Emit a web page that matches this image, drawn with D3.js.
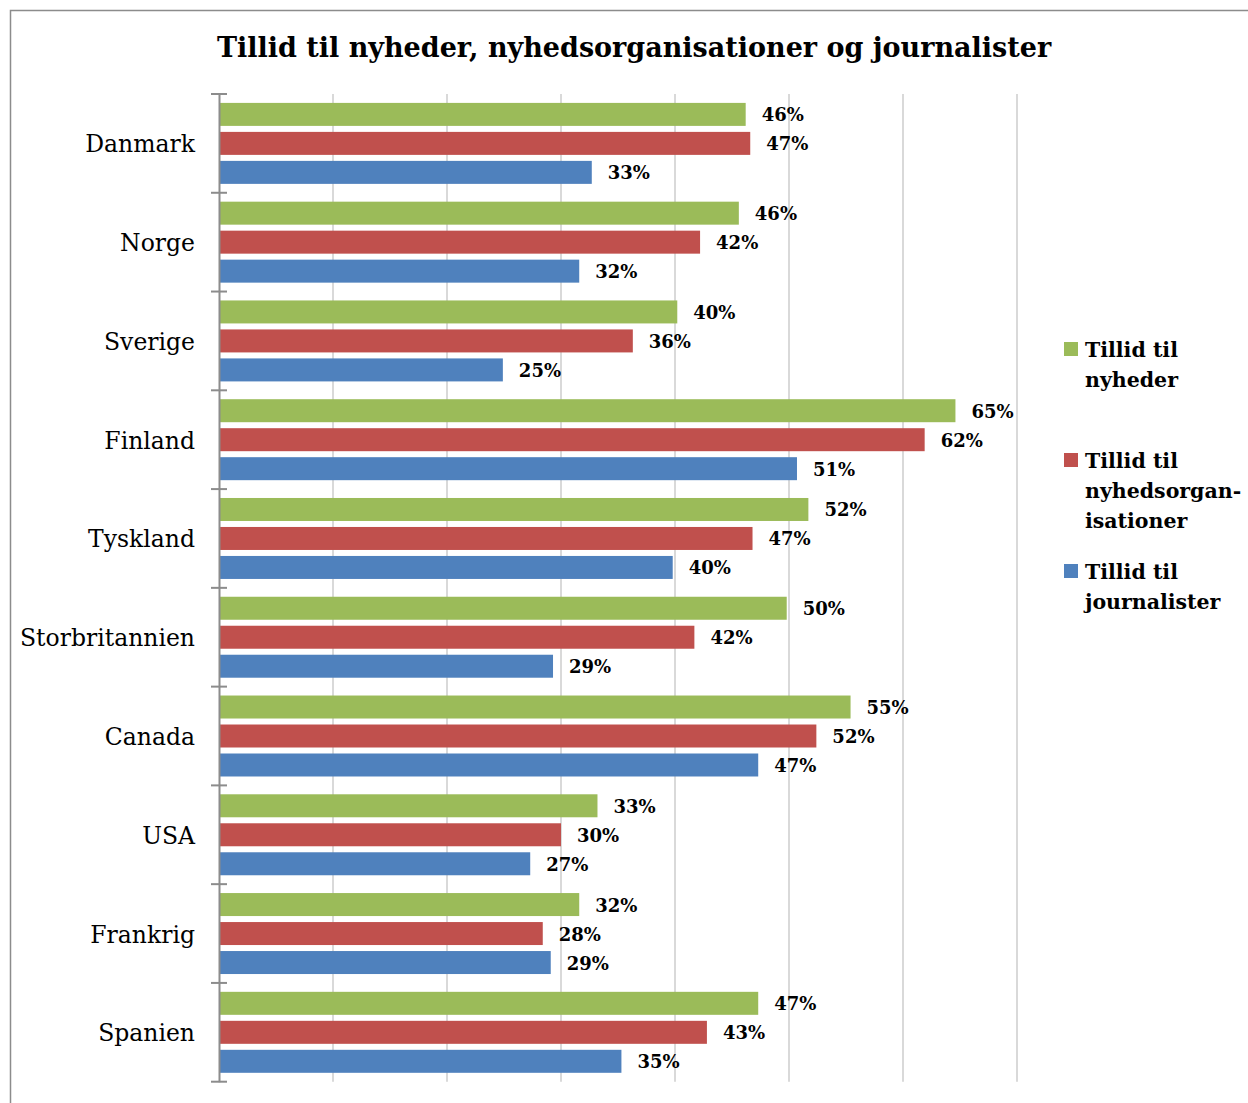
<!DOCTYPE html>
<html>
<head>
<meta charset="utf-8">
<script src="https://cdn.jsdelivr.net/npm/d3@7"></script>
<style>
  html, body { margin: 0; padding: 0; background: #fff; }
  svg { display: block; }
</style>
</head>
<body>
<svg id="chart" width="1248" height="1103"></svg>
<script>
// ---- Data ----
const title = "Tillid til nyheder, nyhedsorganisationer og journalister";
const categories = ["Danmark", "Norge", "Sverige", "Finland", "Tyskland", "Storbritannien", "Canada", "USA", "Frankrig", "Spanien"];
const seriesNames = ["Tillid til nyheder", "Tillid til nyhedsorganisationer", "Tillid til journalister"];
const legendLines = [["Tillid til", "nyheder"], ["Tillid til", "nyhedsorgan-", "isationer"], ["Tillid til", "journalister"]];
const trustNews = [46.2, 45.6, 40.2, 64.6, 51.7, 49.8, 55.4, 33.2, 31.6, 47.3];
const trustOrgs = [46.6, 42.2, 36.3, 61.9, 46.8, 41.7, 52.4, 30.0, 28.4, 42.8];
const trustJournalists = [32.7, 31.6, 24.9, 50.7, 39.8, 29.3, 47.3, 27.3, 29.1, 35.3];
const seriesValues = [trustNews, trustOrgs, trustJournalists];
const gridTicks = [10, 20, 30, 40, 50, 60, 70];

// ---- Styles ----
const colors = ["#9BBB59", "#C0504D", "#4F81BD"];
const serif = "'DejaVu Serif', 'Liberation Serif', serif";

const svg = d3.select("#chart");

// frame
svg.append("path")
  .attr("d", "M10.5,1103 L10.5,10.5 L1248,10.5")
  .attr("fill", "none").attr("stroke", "#8c8c8c").attr("stroke-width", 1.5);

// title
svg.append("text")
  .attr("x", 634).attr("y", 57)
  .attr("text-anchor", "middle")
  .attr("font-family", serif).attr("font-weight", "bold").attr("font-size", 27)
  .attr("fill", "#000")
  .text(title);

const x = d3.scaleLinear().domain([0, 70]).range([219, 1017]);
const y = d3.scaleBand().domain(categories).range([94, 1081.7]).paddingInner(0).paddingOuter(0);
const inner = d3.scaleBand().domain(seriesNames)
  .range([8.9, y.bandwidth() - 8.9]).paddingInner(6 / 29).paddingOuter(0);

// gridlines
svg.append("g").selectAll("line").data(gridTicks).join("line")
  .attr("x1", d => x(d)).attr("x2", d => x(d))
  .attr("y1", 94).attr("y2", 1081.7)
  .attr("stroke", "#d9d9d9").attr("stroke-width", 2);

// bars
const rows = [];
categories.forEach((c, i) => {
  seriesNames.forEach((s, j) => rows.push({ cat: c, ser: s, j, v: seriesValues[j][i] }));
});

svg.append("g").selectAll("rect").data(rows).join("rect")
  .attr("x", x(0))
  .attr("y", d => y(d.cat) + inner(d.ser))
  .attr("width", d => x(d.v) - x(0))
  .attr("height", inner.bandwidth())
  .attr("fill", d => colors[d.j]);

// data labels
svg.append("g").selectAll("text").data(rows).join("text")
  .attr("x", d => x(d.v) + 16)
  .attr("y", d => y(d.cat) + inner(d.ser) + inner.bandwidth() / 2 + 7)
  .attr("font-family", serif).attr("font-size", 18).attr("font-weight", "bold")
  .attr("fill", "#000")
  .text(d => Math.round(d.v) + "%");

// category axis
const axis = d3.axisLeft(y).tickSize(0).tickPadding(24);
const ag = svg.append("g").attr("transform", `translate(${x(0)},0)`).call(axis);
ag.select(".domain").attr("stroke", "#8c8c8c").attr("stroke-width", 2);
ag.selectAll(".tick text")
  .attr("font-family", serif).attr("font-size", 23.5).attr("fill", "#000")
  .attr("dy", 9);

// cross tick marks at band boundaries
const boundaries = categories.map(c => y(c)).concat([y.range()[1]]);
svg.append("g").selectAll("line").data(boundaries).join("line")
  .attr("x1", x(0) - 8).attr("x2", x(0) + 8)
  .attr("y1", d => d).attr("y2", d => d)
  .attr("stroke", "#8c8c8c").attr("stroke-width", 2);

// legend
const legendTops = [342, 453, 564];
const lg = svg.append("g");
seriesNames.forEach((s, j) => {
  lg.append("rect")
    .attr("x", 1064).attr("y", legendTops[j])
    .attr("width", 14).attr("height", 14)
    .attr("fill", colors[j]);
  const t = lg.append("text")
    .attr("font-family", serif).attr("font-size", 20.5).attr("font-weight", "bold")
    .attr("fill", "#000");
  legendLines[j].forEach((line, k) => {
    t.append("tspan").attr("x", 1085).attr("y", legendTops[j] + 15 + k * 30).text(line);
  });
});
</script>
</body>
</html>
